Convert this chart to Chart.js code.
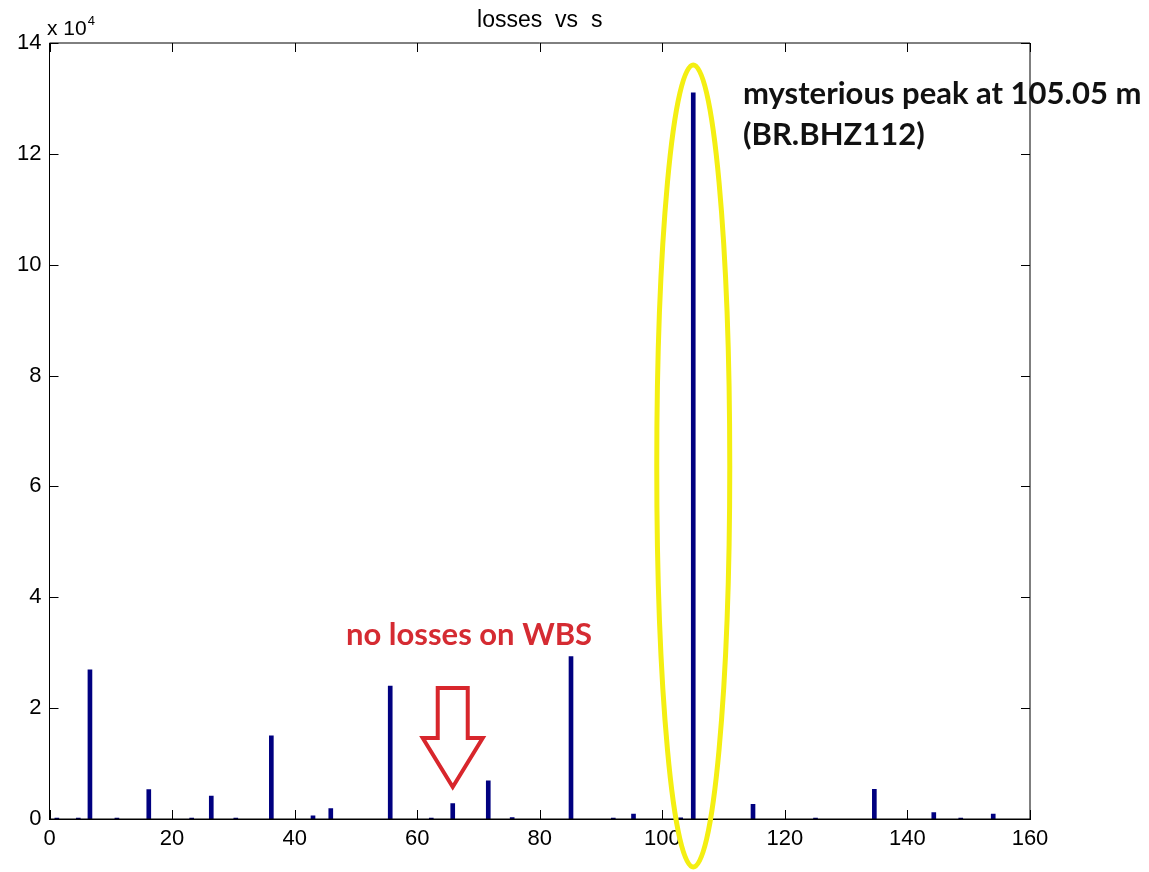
<!DOCTYPE html>
<html>
<head>
<meta charset="utf-8">
<title>losses vs s</title>
<script src="https://cdn.jsdelivr.net/npm/chart.js@4"></script>
<style>
  body { margin: 0; background: #fff; }
  #wrap { width: 1149px; height: 872px; }
</style>
</head>
<body>
<div id="wrap"><canvas id="myChart" width="1149" height="872"></canvas></div>
<script>
// position along the ring (m) and the losses recorded there
const sPos = [1.2, 4.7, 6.6, 11.0, 16.2, 23.2, 26.4, 30.4, 36.2, 43.0, 45.9,
  55.6, 62.3, 65.8, 71.6, 75.5, 85.1, 92.0, 95.3, 103.0, 105.05,
  114.8, 125.0, 134.6, 144.3, 148.7, 154.0];
const losses = [150, 150, 26900, 150, 5300, 150, 4150, 150, 15000, 550, 1900,
  24000, 150, 2800, 6900, 250, 29300, 150, 900, 200, 131000,
  2650, 150, 5350, 1150, 150, 900];
const xTicks = [0, 20, 40, 60, 80, 100, 120, 140, 160];
const yTicks = [0, 2, 4, 6, 8, 10, 12, 14]; // in units of 1e4

const peakS = 105.05;
const wbsS = 65.8;

const points = sPos.map((s, i) => ({ x: s, y: losses[i] }));

// inward ticks on all four sides plus the top/right frame, matlab style
const frameTicks = {
  id: 'frameTicks',
  afterDraw(chart) {
    const { ctx, chartArea: a, scales: { x, y } } = chart;
    const len = 9;
    ctx.save();
    ctx.strokeStyle = '#000';
    ctx.lineWidth = 1;
    ctx.beginPath();
    ctx.rect(a.left, a.top, a.right - a.left, a.bottom - a.top);
    xTicks.forEach(v => {
      const px = Math.round(x.getPixelForValue(v)) + 0.5;
      ctx.moveTo(px, a.bottom); ctx.lineTo(px, a.bottom - len);
      ctx.moveTo(px, a.top); ctx.lineTo(px, a.top + len);
    });
    yTicks.forEach(v => {
      const py = Math.round(y.getPixelForValue(v * 1e4)) + 0.5;
      ctx.moveTo(a.left, py); ctx.lineTo(a.left + len, py);
      ctx.moveTo(a.right, py); ctx.lineTo(a.right - len, py);
    });
    ctx.stroke();

    // exponent label above the y axis
    ctx.fillStyle = '#000';
    ctx.textBaseline = 'alphabetic';
    ctx.textAlign = 'left';
    ctx.font = '21px "Liberation Sans", Arial, sans-serif';
    ctx.fillText('x 10', 47, 35);
    const w = ctx.measureText('x 10').width;
    ctx.font = '13px "Liberation Sans", Arial, sans-serif';
    ctx.fillText('4', 47 + w + 1, 25);
    ctx.restore();
  }
};

// hand-drawn notes: ellipse round the peak, arrow at the WBS, captions
const notes = {
  id: 'notes',
  afterDraw(chart) {
    const { ctx, scales: { x } } = chart;
    ctx.save();

    const cx = x.getPixelForValue(peakS);
    ctx.strokeStyle = '#f4ef12';
    ctx.lineWidth = 5;
    ctx.beginPath();
    ctx.ellipse(cx, 466, 36.5, 401, 0, 0, Math.PI * 2);
    ctx.stroke();

    const ax = x.getPixelForValue(wbsS);
    ctx.strokeStyle = '#d8262c';
    ctx.lineWidth = 4;
    ctx.lineJoin = 'miter';
    ctx.beginPath();
    ctx.moveTo(ax - 15, 688);
    ctx.lineTo(ax + 15, 688);
    ctx.lineTo(ax + 15, 738);
    ctx.lineTo(ax + 30, 738);
    ctx.lineTo(ax, 787);
    ctx.lineTo(ax - 30, 738);
    ctx.lineTo(ax - 15, 738);
    ctx.closePath();
    ctx.stroke();

    ctx.textAlign = 'left';
    ctx.textBaseline = 'alphabetic';
    ctx.font = 'bold 31px Lato, "Noto Sans", sans-serif';
    ctx.fillStyle = '#d52b32';
    ctx.fillText('no losses on WBS', 346, 645);

    ctx.fillStyle = '#111';
    ctx.fillText('mysterious peak at 105.05 m', 743, 104);
    ctx.fillText('(BR.BHZ112)', 743, 145);
    ctx.restore();
  }
};

const data = {
  datasets: [
    {
      label: 'losses',
      data: points,
      backgroundColor: '#000080',
      borderWidth: 0,
      barThickness: 4,
    },
  ]
};

const tickFont = { family: '"Liberation Sans", Arial, sans-serif', size: 22 };

const config = {
  type: 'bar',
  data: data,
  options: {
    responsive: false,
    animation: false,
    layout: { padding: { left: 0, right: 119, top: 0, bottom: 0 } },
    plugins: {
      legend: { display: false },
      tooltip: { enabled: false },
      title: {
        display: true,
        fullSize: false,
        text: 'losses  vs  s',
        color: '#000',
        font: { family: '"Liberation Sans", Arial, sans-serif', size: 23, weight: 'normal', lineHeight: 1.2 },
        padding: { top: 7, bottom: 8.4 }
      }
    },
    scales: {
      x: {
        type: 'linear',
        min: 0,
        max: 160,
        offset: false,
        grid: { display: false, drawTicks: false, offset: false },
        border: { display: true, color: '#000', width: 1 },
        afterBuildTicks: s => { s.ticks = xTicks.map(v => ({ value: v })); },
        afterFit: s => { s.height = 53; },
        ticks: { color: '#000', font: tickFont, padding: 7, maxRotation: 0 }
      },
      y: {
        min: 0,
        max: 140000,
        grid: { display: false, drawTicks: false },
        border: { display: true, color: '#000', width: 1 },
        afterBuildTicks: s => { s.ticks = yTicks.map(v => ({ value: v * 1e4 })); },
        afterFit: s => { s.width = 49.5; },
        ticks: {
          color: '#000',
          font: tickFont,
          padding: 8,
          callback: v => String(v / 1e4)
        }
      }
    }
  },
  plugins: [frameTicks, notes]
};

const myChart = new Chart(
  document.getElementById('myChart'),
  config
);
</script>
</body>
</html>
